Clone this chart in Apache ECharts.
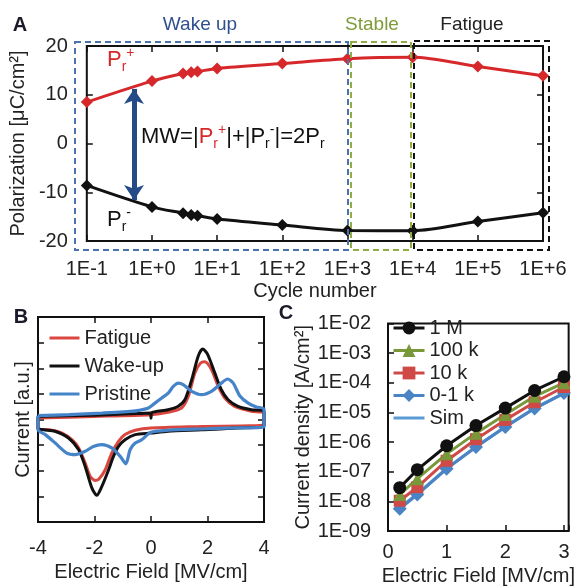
<!DOCTYPE html>
<html><head><meta charset="utf-8">
<script src="https://cdn.jsdelivr.net/npm/echarts@6/dist/echarts.min.js"></script>
<style>html,body{margin:0;padding:0;background:#fff}#c{width:577px;height:587px}</style>
</head><body><div id="c"></div>
<script>
// ---------- Panel A data ----------
const cyclesA = [0.1, 1, 3, 4, 5, 10, 100, 1000, 10000, 100000, 1000000];
const prPlus  = [8.5, 12.8, 14.35, 14.6, 14.75, 15.4, 16.4, 17.4, 17.7, 15.8, 13.9];
const prMinus = [-8.6, -13.0, -14.3, -14.65, -14.8, -15.5, -16.7, -17.85, -17.9, -16.0, -14.2];
const arrowCycle = 0.53, arrowTop = 11.2, arrowBottom = -11.6;
const regionLabels = ['Wake up', 'Stable', 'Fatigue'];

// ---------- Panel B data (I-V loops: sweep up then sweep down) ----------
const fatigueLoop = [[-4,0.06],[-2,0.12],[0,0.19],[0.6,0.28],[1.08,0.45],[1.32,0.9],[1.55,1.81],[1.75,2.2],[1.9,2.25],[2.14,1.95],[2.38,1.29],[2.61,0.84],[2.96,0.51],[3.55,0.32],[4,0.25],
  [4,-0.2],[1.8,-0.27],[0,-0.33],[-0.56,-0.42],[-0.92,-0.59],[-1.15,-0.85],[-1.39,-1.31],[-1.62,-1.96],[-1.85,-2.33],[-1.98,-2.38],[-2.15,-2.22],[-2.33,-1.7],[-2.56,-1.11],[-2.8,-0.79],[-3.15,-0.53],[-3.6,-0.4],[-4,-0.37],[-4,0.06]];
const wakeupLoop = [[-4,0.12],[-3,0.15],[-2,0.17],[-1,0.21],[-0.5,0.23],[-0.02,0.25],[0,0.05],[0.02,0.26],[0.6,0.38],[0.95,0.51],[1.2,0.77],[1.44,1.55],[1.67,2.47],[1.83,2.75],[2.0,2.55],[2.26,1.81],[2.49,1.16],[2.73,0.77],[3.08,0.51],[3.55,0.38],[4,0.32],
  [4,-0.24],[3,-0.33],[1.8,-0.4],[0.6,-0.46],[0,-0.53],[-0.56,-0.59],[-0.92,-0.79],[-1.15,-1.05],[-1.33,-1.44],[-1.5,-1.96],[-1.74,-2.61],[-1.92,-2.96],[-2.09,-2.68],[-2.33,-1.83],[-2.56,-1.18],[-2.92,-0.72],[-3.4,-0.46],[-4,-0.33],[-4,0.12]];
const pristineLoop = [[-4,0.15],[-2.9,0.19],[-1.74,0.25],[-0.56,0.34],[-0.09,0.45],[0.14,0.64],[0.38,0.84],[0.61,1.03],[0.79,1.29],[0.96,1.42],[1.14,1.36],[1.44,1.1],[1.79,0.97],[2.14,1.1],[2.49,1.42],[2.71,1.58],[2.91,1.42],[3.14,0.93],[3.44,0.64],[3.73,0.49],[4,0.41],
  [4,-0.29],[2.96,-0.33],[1.79,-0.37],[0.61,-0.42],[0,-0.5],[-0.33,-0.79],[-0.56,-0.92],[-0.74,-1.18],[-0.89,-1.73],[-1.09,-1.44],[-1.39,-1.11],[-1.74,-0.98],[-2.04,-1.05],[-2.33,-1.24],[-2.68,-1.37],[-2.98,-1.31],[-3.39,-0.92],[-3.74,-0.59],[-4,-0.4],[-4,0.15]];

// ---------- Panel C data ----------
const fieldC = [0.2, 0.5, 1, 1.5, 2, 2.5, 3];
const j1M   = [2.9e-8, 1.17e-7, 7.5e-7, 3.6e-6, 1.4e-5, 5.5e-5, 1.6e-4];
const j100k = [1.7e-8, 5.8e-8, 4.0e-7, 2.0e-6, 8.5e-6, 3.5e-5, 1.0e-4];
const j10k  = [1.05e-8, 3.0e-8, 2.35e-7, 1.25e-6, 5.6e-6, 2.2e-5, 7.2e-5];
const j01k  = [5.6e-9, 1.7e-8, 1.25e-7, 6.8e-7, 3.2e-6, 1.35e-5, 4.5e-5];
const jSim  = [6.0e-9, 1.8e-8, 1.3e-7, 7.0e-7, 3.3e-6, 1.4e-5, 4.4e-5];

const FF = "'Liberation Sans', Arial, sans-serif";
const RED = '#d6282b', BLK = '#111111';
const pairs = (xs, ys) => xs.map((x, i) => [x, ys[i]]);
const fmtA = v => { const e = Math.round(Math.log10(v)); return '1E' + (e < 0 ? '-' : '+') + Math.abs(e); };
const fmtC = v => { const e = Math.round(Math.log10(v)); const a = Math.abs(e); return '1E' + (e < 0 ? '-' : '+') + (a < 10 ? '0' + a : a); };

const tick = {inside: true, length: 6, lineStyle: {color: BLK, width: 1.5}};
const noLine = {show: false, onZero: false};
const lab = (extra) => Object.assign({fontSize: 20, color: '#222', fontFamily: FF}, extra || {});
const nameStyle = {fontSize: 20, color: '#222', fontFamily: FF};
const hiddenAxis = (o) => Object.assign({axisLine: noLine, axisTick: tick, axisLabel: {show: false}, splitLine: {show: false}}, o);

const chart = echarts.init(document.getElementById('c'), null, {renderer: 'canvas'});

const richBase = {
  n: {fontSize: 22, lineHeight: 28, fontFamily: FF, fill: '#111'},
  r: {fontSize: 22, lineHeight: 28, fontFamily: FF, fill: RED},
  sb: {fontSize: 14, lineHeight: 14, fontFamily: FF, fill: '#111', verticalAlign: 'bottom'},
  sp: {fontSize: 14, lineHeight: 14, fontFamily: FF, fill: '#111', verticalAlign: 'top'},
  rsb: {fontSize: 14, lineHeight: 14, fontFamily: FF, fill: RED, verticalAlign: 'bottom'},
  rsp: {fontSize: 14, lineHeight: 14, fontFamily: FF, fill: RED, verticalAlign: 'top'}
};

chart.setOption({
  animation: false,
  backgroundColor: '#fff',
  grid: [
    {left: 86, top: 46, width: 457, height: 195, show: true, borderColor: BLK, borderWidth: 2},
    {left: 38, top: 317, width: 226, height: 205, show: true, borderColor: BLK, borderWidth: 2},
    {left: 388, top: 323.5, width: 187, height: 208.5, show: true, borderColor: BLK, borderWidth: 2}
  ],
  legend: [
    {data: ['Fatigue', 'Wake-up', 'Pristine'], orient: 'vertical', left: 48, top: 328, padding: 0, itemWidth: 30, itemHeight: 14, itemGap: 8,
     itemStyle: {opacity: 0}, lineStyle: {width: 3}, textStyle: {fontSize: 20, color: '#222', fontFamily: FF}, selectedMode: false},
    {data: ['1 M', '100 k', '10 k', '0-1 k', {name: 'Sim', itemStyle: {opacity: 0}}], orient: 'vertical', left: 392, top: 318, padding: 0,
     itemWidth: 31, itemHeight: 16, itemGap: 2.5, lineStyle: {width: 3},
     textStyle: {fontSize: 20, color: '#222', fontFamily: FF}, selectedMode: false}
  ],
  xAxis: [
    {type: 'log', gridIndex: 0, logBase: 10, min: 0.1, max: 1e6, axisLine: noLine, axisTick: tick, splitLine: {show: false},
     axisLabel: lab({formatter: fmtA, margin: 18}), name: 'Cycle number', nameLocation: 'middle', nameGap: 40, nameTextStyle: nameStyle},
    hiddenAxis({type: 'log', gridIndex: 0, logBase: 10, min: 0.1, max: 1e6, position: 'top'}),
    {type: 'value', gridIndex: 1, min: -4, max: 4, interval: 2, axisLine: noLine, axisTick: tick, splitLine: {show: false},
     axisLabel: lab({margin: 16}), name: 'Electric Field [MV/cm]', nameLocation: 'middle', nameGap: 40, nameTextStyle: nameStyle},
    hiddenAxis({type: 'value', gridIndex: 1, min: -4, max: 4, interval: 2, position: 'top'}),
    {type: 'value', gridIndex: 2, min: 0, max: 3.08, interval: 1, axisLine: noLine, axisTick: tick, splitLine: {show: false},
     axisLabel: lab({margin: 11, formatter: v => Number.isInteger(v) ? String(v) : ''}), name: 'Electric Field [MV/cm]', nameLocation: 'middle', nameGap: 35, nameTextStyle: nameStyle}
  ],
  yAxis: [
    {type: 'value', gridIndex: 0, min: -20, max: 20, interval: 10, axisLine: noLine, axisTick: tick, splitLine: {show: false},
     axisLabel: lab({margin: 19}), name: 'Polarization [μC/cm²]', nameLocation: 'middle', nameGap: 53, nameTextStyle: nameStyle},
    hiddenAxis({type: 'value', gridIndex: 0, min: -20, max: 20, interval: 10, position: 'right'}),
    {type: 'value', gridIndex: 1, min: -4, max: 4, interval: 1, axisLine: noLine, axisTick: tick, splitLine: {show: false},
     axisLabel: {show: false}, name: 'Current [a.u.]', nameLocation: 'middle', nameGap: 5, nameTextStyle: nameStyle},
    hiddenAxis({type: 'value', gridIndex: 1, min: -4, max: 4, interval: 1, position: 'right'}),
    {type: 'log', gridIndex: 2, logBase: 10, min: 1e-9, max: 1e-2, axisLine: noLine, axisTick: tick, splitLine: {show: false},
     axisLabel: lab({formatter: fmtC, margin: 17}), name: 'Current density [A/cm²]', nameLocation: 'middle', nameGap: 72, nameTextStyle: nameStyle}
  ],
  series: [
    {name: 'Pr+', type: 'line', xAxisIndex: 0, yAxisIndex: 0, data: pairs(cyclesA, prPlus), smooth: 0.3,
     symbol: 'diamond', symbolSize: 12, itemStyle: {color: RED}, lineStyle: {color: RED, width: 3}, z: 3},
    {name: 'Pr-', type: 'line', xAxisIndex: 0, yAxisIndex: 0, data: pairs(cyclesA, prMinus), smooth: 0.3,
     symbol: 'diamond', symbolSize: 12, itemStyle: {color: BLK}, lineStyle: {color: BLK, width: 3}, z: 3,
     markLine: {silent: true, symbol: ['arrow', 'arrow'], symbolSize: [15, 15], label: {show: false},
       lineStyle: {color: '#244b87', width: 5, type: 'solid'},
       data: [[{coord: [arrowCycle, arrowTop]}, {coord: [arrowCycle, arrowBottom]}]]}},
    {name: 'Fatigue', type: 'line', xAxisIndex: 2, yAxisIndex: 2, data: fatigueLoop, smooth: 0.25, symbol: 'none',
     itemStyle: {color: '#d9473f'}, lineStyle: {color: '#d9473f', width: 3}},
    {name: 'Wake-up', type: 'line', xAxisIndex: 2, yAxisIndex: 2, data: wakeupLoop, smooth: 0.25, symbol: 'none',
     itemStyle: {color: BLK}, lineStyle: {color: BLK, width: 3}},
    {name: 'Pristine', type: 'line', xAxisIndex: 2, yAxisIndex: 2, data: pristineLoop, smooth: 0.25, symbol: 'none',
     itemStyle: {color: '#4584c9'}, lineStyle: {color: '#4584c9', width: 3.2}},
    {name: 'Sim', type: 'line', xAxisIndex: 4, yAxisIndex: 4, data: pairs(fieldC, jSim), symbol: 'none',
     itemStyle: {color: '#5b9bd5'}, lineStyle: {color: '#5b9bd5', width: 3}, z: 1},
    {name: '0-1 k', type: 'line', xAxisIndex: 4, yAxisIndex: 4, data: pairs(fieldC, j01k), symbol: 'diamond', symbolSize: 14,
     itemStyle: {color: '#4a84c4'}, lineStyle: {color: '#4a84c4', width: 3}},
    {name: '10 k', type: 'line', xAxisIndex: 4, yAxisIndex: 4, data: pairs(fieldC, j10k), symbol: 'rect', symbolSize: 12,
     itemStyle: {color: '#cf4a47'}, lineStyle: {color: '#cf4a47', width: 3}},
    {name: '100 k', type: 'line', xAxisIndex: 4, yAxisIndex: 4, data: pairs(fieldC, j100k), symbol: 'triangle', symbolSize: 13,
     itemStyle: {color: '#78983a'}, lineStyle: {color: '#78983a', width: 3}},
    {name: '1 M', type: 'line', xAxisIndex: 4, yAxisIndex: 4, data: pairs(fieldC, j1M), symbol: 'circle', symbolSize: 13,
     itemStyle: {color: BLK}, lineStyle: {color: BLK, width: 3}}
  ],
  graphic: [
    {type: 'text', x: 20, y: 25, style: {text: 'A', font: 'bold 20px ' + FF, fill: '#1a1a2a', align: 'center', verticalAlign: 'middle'}},
    {type: 'text', x: 21, y: 317, style: {text: 'B', font: 'bold 20px ' + FF, fill: '#1a1a2a', align: 'center', verticalAlign: 'middle'}},
    {type: 'text', x: 286, y: 313, style: {text: 'C', font: 'bold 20px ' + FF, fill: '#1a1a2a', align: 'center', verticalAlign: 'middle'}},
    {type: 'text', x: 200, y: 25, style: {text: regionLabels[0], font: '19px ' + FF, fill: '#2f4f8f', align: 'center', verticalAlign: 'middle'}},
    {type: 'text', x: 372, y: 25, style: {text: regionLabels[1], font: '19px ' + FF, fill: '#7f9b3a', align: 'center', verticalAlign: 'middle'}},
    {type: 'text', x: 472, y: 25, style: {text: regionLabels[2], font: '19px ' + FF, fill: '#222', align: 'center', verticalAlign: 'middle'}},
    {type: 'rect', z: 20, shape: {x: 75, y: 42, width: 273, height: 208}, style: {fill: 'none', stroke: '#4a72b0', lineWidth: 2, lineDash: [6, 4]}},
    {type: 'rect', z: 20, shape: {x: 351, y: 42, width: 60, height: 208}, style: {fill: 'none', stroke: '#8fac45', lineWidth: 2, lineDash: [6, 4]}},
    {type: 'rect', z: 20, shape: {x: 414, y: 41, width: 135, height: 209}, style: {fill: 'none', stroke: '#111', lineWidth: 2, lineDash: [6, 4]}},
    {type: 'text', z: 20, x: 107, y: 60, style: {text: '{r|P}{rsb|r}{rsp|+}', rich: richBase, align: 'left', verticalAlign: 'middle'}},
    {type: 'text', z: 20, x: 107, y: 220, style: {text: '{n|P}{sb|r}{sp|-}', rich: richBase, align: 'left', verticalAlign: 'middle'}},
    {type: 'text', z: 20, x: 141, y: 137, style: {text: '{n|MW=|}{r|P}{rsb|r}{rsp|+}{n||+|P}{sb|r}{sp|-}{n||=2P}{sb|r}', rich: richBase, align: 'left', verticalAlign: 'middle'}}
  ]
});
</script>
</body></html>
